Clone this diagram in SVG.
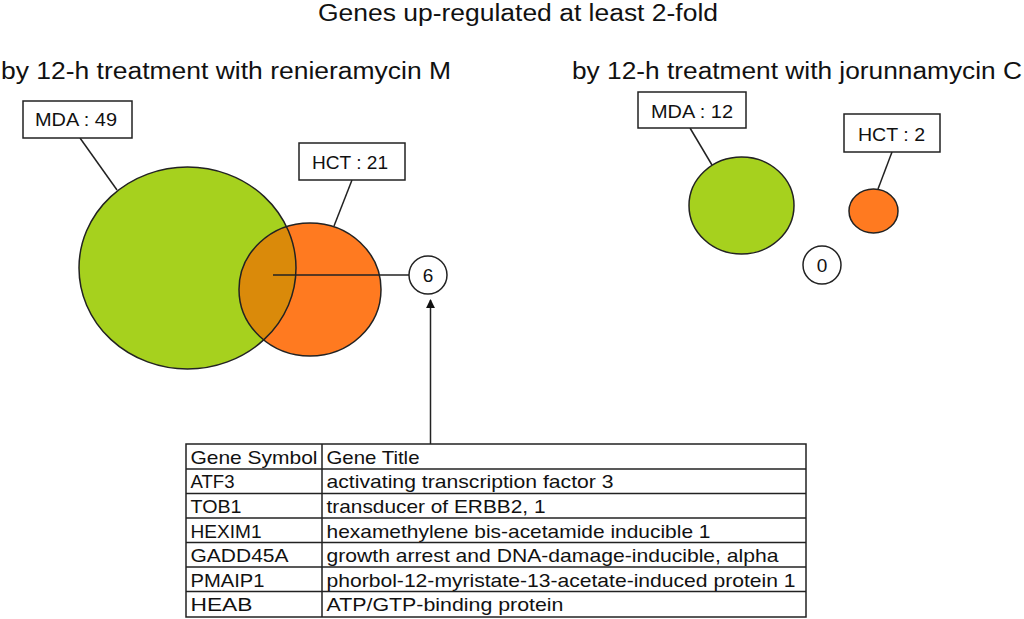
<svg xmlns="http://www.w3.org/2000/svg" width="1024" height="619" viewBox="0 0 1024 619">
<style>
text{font-family:"Liberation Sans",Arial,sans-serif;fill:#111}
.t{font-size:23px}
.lab{font-size:19px}
.cell{font-size:19px}
.box{fill:#fff;stroke:#222;stroke-width:1.5}
.ln{stroke:#222;stroke-width:1.5;fill:none}
.grn{fill:#A6D11E}
.org{fill:#FF7A20}
.out{fill:none;stroke:#222;stroke-width:1.5}
</style>
<defs>
<clipPath id="clipG"><ellipse cx="187.5" cy="268" rx="108.5" ry="101"/></clipPath>
<marker id="arr" viewBox="0 0 10 10" refX="9" refY="5" markerWidth="9" markerHeight="9" markerUnits="userSpaceOnUse" orient="auto"><path d="M0,0L10,5L0,10z" fill="#111"/></marker>
</defs>
<rect width="1024" height="619" fill="#fff"/>
<g id="titles">
<text class="t" x="318" y="21" textLength="400" lengthAdjust="spacingAndGlyphs">Genes up-regulated at least 2-fold</text>
<text class="t" x="1" y="79" textLength="450" lengthAdjust="spacingAndGlyphs">by 12-h treatment with renieramycin M</text>
<text class="t" x="572" y="79" textLength="450" lengthAdjust="spacingAndGlyphs">by 12-h treatment with jorunnamycin C</text>
</g>
<g id="connectors">
<line class="ln" x1="80" y1="138" x2="117" y2="190"/>
<line class="ln" x1="352" y1="180" x2="334" y2="226"/>
<line class="ln" x1="690" y1="128" x2="712" y2="165"/>
<line class="ln" x1="892" y1="152" x2="878" y2="189"/>
<line class="ln" x1="430.5" y1="444" x2="430.5" y2="300" marker-end="url(#arr)"/>
</g>
<g id="venn-left">
<ellipse class="grn" cx="187.5" cy="268" rx="108.5" ry="101"/>
<ellipse class="org" cx="310" cy="289.5" rx="71" ry="66.5"/>
<ellipse cx="310" cy="289.5" rx="71" ry="66.5" fill="#DA8A0A" clip-path="url(#clipG)"/>
<ellipse class="out" cx="187.5" cy="268" rx="108.5" ry="101"/>
<ellipse class="out" cx="310" cy="289.5" rx="71" ry="66.5"/>
<line class="ln" x1="273" y1="275" x2="409" y2="275"/>
</g>
<g id="count-6">
<circle class="box" cx="428" cy="275" r="19"/>
<text class="lab" x="428" y="282" text-anchor="middle">6</text>
</g>
<g id="label-mda49">
<rect class="box" x="23" y="101" width="109" height="37"/>
<text class="lab" x="35" y="126" textLength="82" lengthAdjust="spacingAndGlyphs">MDA : 49</text>
</g>
<g id="label-hct21">
<rect class="box" x="299" y="143" width="106" height="37"/>
<text class="lab" x="312" y="168.5" textLength="76" lengthAdjust="spacingAndGlyphs">HCT : 21</text>
</g>
<g id="venn-right">
<ellipse class="grn" cx="741.5" cy="205.5" rx="52.5" ry="48.5" stroke="#222" stroke-width="1.5"/>
<ellipse class="org" cx="873.5" cy="211" rx="24.5" ry="22" stroke="#222" stroke-width="1.5"/>
</g>
<g id="count-0">
<circle class="box" cx="822" cy="265" r="19"/>
<text class="lab" x="822" y="272" text-anchor="middle">0</text>
</g>
<g id="label-mda12">
<rect class="box" x="638" y="92" width="108" height="36"/>
<text class="lab" x="651" y="117.5" textLength="82" lengthAdjust="spacingAndGlyphs">MDA : 12</text>
</g>
<g id="label-hct2">
<rect class="box" x="844" y="114" width="96" height="38"/>
<text class="lab" x="858" y="140.5" textLength="67" lengthAdjust="spacingAndGlyphs">HCT : 2</text>
</g>
<g id="gene-table">
<rect x="186" y="444" width="620" height="173" fill="#fff" stroke="#222" stroke-width="1.5"/>
<line class="ln" x1="322" y1="444" x2="322" y2="617"/>
<line class="ln" x1="186" y1="469" x2="806" y2="469"/>
<line class="ln" x1="186" y1="493.5" x2="806" y2="493.5"/>
<line class="ln" x1="186" y1="518" x2="806" y2="518" stroke-width="2"/>
<line class="ln" x1="186" y1="542.5" x2="806" y2="542.5" stroke-width="2"/>
<line class="ln" x1="186" y1="567" x2="806" y2="567"/>
<line class="ln" x1="186" y1="591.5" x2="806" y2="591.5"/>
<text class="cell" x="190.5" y="463.5" textLength="127" lengthAdjust="spacingAndGlyphs">Gene Symbol</text>
<text class="cell" x="326.5" y="463.5" textLength="93" lengthAdjust="spacingAndGlyphs">Gene Title</text>
<text class="cell" x="190.5" y="488" textLength="44" lengthAdjust="spacingAndGlyphs">ATF3</text>
<text class="cell" x="326.5" y="488" textLength="287" lengthAdjust="spacingAndGlyphs">activating transcription factor 3</text>
<text class="cell" x="190.5" y="512.5" textLength="51" lengthAdjust="spacingAndGlyphs">TOB1</text>
<text class="cell" x="326.5" y="512.5" textLength="219" lengthAdjust="spacingAndGlyphs">transducer of ERBB2, 1</text>
<text class="cell" x="190.5" y="537.5" textLength="71" lengthAdjust="spacingAndGlyphs">HEXIM1</text>
<text class="cell" x="326.5" y="537.5" textLength="384" lengthAdjust="spacingAndGlyphs">hexamethylene bis-acetamide inducible 1</text>
<text class="cell" x="190.5" y="562" textLength="98" lengthAdjust="spacingAndGlyphs">GADD45A</text>
<text class="cell" x="326.5" y="562" textLength="452" lengthAdjust="spacingAndGlyphs">growth arrest and DNA-damage-inducible, alpha</text>
<text class="cell" x="190.5" y="586.5" textLength="74" lengthAdjust="spacingAndGlyphs">PMAIP1</text>
<text class="cell" x="326.5" y="586.5" textLength="469" lengthAdjust="spacingAndGlyphs">phorbol-12-myristate-13-acetate-induced protein 1</text>
<text class="cell" x="190.5" y="611" textLength="62" lengthAdjust="spacingAndGlyphs">HEAB</text>
<text class="cell" x="326.5" y="611" textLength="237" lengthAdjust="spacingAndGlyphs">ATP/GTP-binding protein</text>
</g>
</svg>
